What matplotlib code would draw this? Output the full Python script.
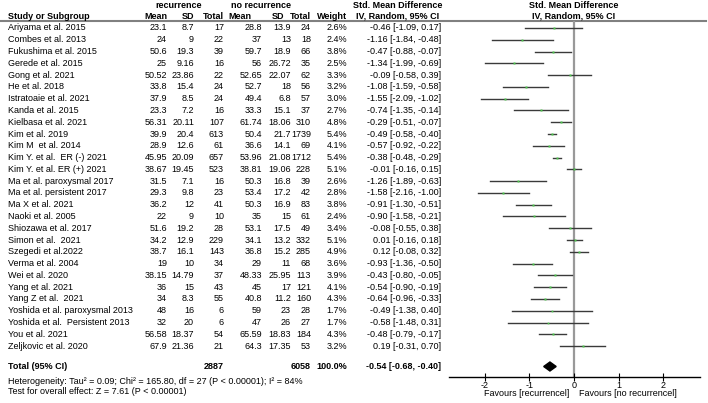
import matplotlib
matplotlib.use("Agg")
import matplotlib.pyplot as plt
from matplotlib.patches import Polygon

plt.rcParams['font.family'] = ['Liberation Sans', 'DejaVu Sans']

# ===== data =====
studies = [
    "Ariyama et al. 2015", "Combes et al. 2013", "Fukushima et al. 2015", "Gerede et al. 2015",
    "Gong et al. 2021", "He et al. 2018", "Istratoaie et al. 2021", "Kanda et al. 2015",
    "Kielbasa et al. 2021", "Kim et al. 2019", "Kim M  et al. 2014", "Kim Y. et al.  ER (-) 2021",
    "Kim Y. et al. ER (+) 2021", "Ma et al. paroxysmal 2017", "Ma et al. persistent 2017",
    "Ma X et al. 2021", "Naoki et al. 2005", "Shiozawa et al. 2017", "Simon et al.  2021",
    "Szegedi et al.2022", "Verma et al. 2004", "Wei et al. 2020", "Yang et al. 2021",
    "Yang Z et al.  2021", "Yoshida et al. paroxysmal 2013", "Yoshida et al.  Persistent 2013",
    "You et al. 2021", "Zeljkovic et al. 2020",
]
rec_mean = [23.1, 24, 50.6, 25, 50.52, 33.8, 37.9, 23.3, 56.31, 39.9, 28.9, 45.95, 38.67, 31.5,
            29.3, 36.2, 22, 51.6, 34.2, 38.7, 19, 38.15, 36, 34, 48, 32, 56.58, 67.9]
rec_sd = [8.7, 9, 19.3, 9.16, 23.86, 15.4, 8.5, 7.2, 20.11, 20.4, 12.6, 20.09, 19.45, 7.1,
          9.8, 12, 9, 19.2, 12.9, 16.1, 10, 14.79, 15, 8.3, 16, 20, 18.37, 21.36]
rec_n = [17, 22, 39, 16, 22, 24, 24, 16, 107, 613, 61, 657, 523, 16, 23, 41, 10, 28, 229, 143,
         34, 37, 43, 55, 6, 6, 54, 21]
non_mean = [28.8, 37, 59.7, 56, 52.65, 52.7, 49.4, 33.3, 61.74, 50.4, 36.6, 53.96, 38.81, 50.3,
            53.4, 50.3, 35, 53.1, 34.1, 36.8, 29, 48.33, 45, 40.8, 59, 47, 65.59, 64.3]
non_sd = [13.9, 13, 18.9, 26.72, 22.07, 18, 6.8, 15.1, 18.06, 21.7, 14.1, 21.08, 19.06, 16.8,
          17.2, 16.9, 15, 17.5, 13.2, 15.2, 11, 25.95, 17, 11.2, 23, 26, 18.83, 17.35]
non_n = [24, 18, 66, 35, 62, 56, 57, 37, 310, 1739, 69, 1712, 228, 39, 42, 83, 61, 49, 332, 285,
         68, 113, 121, 160, 28, 27, 184, 53]
weight = [2.6, 2.4, 3.8, 2.5, 3.3, 3.2, 3.0, 2.7, 4.8, 5.4, 4.1, 5.4, 5.1, 2.6, 2.8, 3.8, 2.4,
          3.4, 5.1, 4.9, 3.6, 3.9, 4.1, 4.3, 1.7, 1.7, 4.3, 3.2]
smd = [-0.46, -1.16, -0.47, -1.34, -0.09, -1.08, -1.55, -0.74, -0.29, -0.49, -0.57, -0.38, -0.01,
       -1.26, -1.58, -0.91, -0.90, -0.08, 0.01, 0.12, -0.93, -0.43, -0.54, -0.64, -0.49, -0.58,
       -0.48, 0.19]
ci_lo = [-1.09, -1.84, -0.88, -1.99, -0.58, -1.59, -2.09, -1.35, -0.51, -0.58, -0.92, -0.48, -0.16,
         -1.89, -2.16, -1.30, -1.58, -0.55, -0.16, -0.08, -1.36, -0.80, -0.90, -0.96, -1.38, -1.48,
         -0.79, -0.31]
ci_hi = [0.17, -0.48, -0.07, -0.69, 0.39, -0.58, -1.02, -0.14, -0.07, -0.40, -0.22, -0.29, 0.15,
         -0.63, -1.00, -0.51, -0.21, 0.38, 0.18, 0.32, -0.50, -0.05, -0.19, -0.33, 0.40, 0.31,
         -0.17, 0.70]

total_rec, total_non, total_weight = 2887, 6058, 100.0
total_smd, total_lo, total_hi = -0.54, -0.68, -0.40
het_text = "Heterogeneity: Tau² = 0.09; Chi² = 165.80, df = 27 (P < 0.00001); I² = 84%"
test_text = "Test for overall effect: Z = 7.61 (P < 0.00001)"
xticks = [-2, -1, 0, 1, 2]

# ===== layout (pixels) =====
W, H = 708, 403
row0, rowstep = 28.0, 11.78
total_y = 366.5
axis_y = 377
head_line_y = 21
fs = 6.5

def row_y(i):
    return row0 + rowstep * i

fig = plt.figure(figsize=(W / 100, H / 100), dpi=100)
ax = fig.add_axes([0, 0, 1, 1])
ax.set_xlim(0, W)
ax.set_ylim(H, 0)
ax.axis("off")

# headers
bold = dict(fontsize=fs, fontweight="bold", va="center")
ax.text(179, 5.5, "recurrence", ha="center", **bold)
ax.text(261, 5.5, "no recurrence", ha="center", **bold)
ax.text(398, 5.5, "Std. Mean Difference", ha="center", **bold)
ax.text(574, 5.5, "Std. Mean Difference", ha="center", **bold)
ax.text(8, 16.5, "Study or Subgroup", ha="left", **bold)
for x, s in [(167, "Mean"), (194, "SD"), (224, "Total"), (251, "Mean"), (284, "SD"),
             (311, "Total"), (347, "Weight")]:
    ax.text(x, 16.5, s, ha="right", **bold)
ax.text(398, 16.5, "IV, Random, 95% CI", ha="center", **bold)
ax.text(574, 16.5, "IV, Random, 95% CI", ha="center", **bold)
ax.plot([0, 706], [head_line_y, head_line_y], color="#808080", lw=1.5)

# rows of the table
for i, name in enumerate(studies):
    y = row_y(i)
    ax.text(8, y, name, ha="left", va="center", fontsize=fs)
    cols = [(167, f"{rec_mean[i]:g}"), (194, f"{rec_sd[i]:g}"), (224, f"{rec_n[i]}"),
            (262, f"{non_mean[i]:g}"), (291, f"{non_sd[i]:g}"), (311, f"{non_n[i]}"),
            (347, f"{weight[i]:.1f}%"),
            (441, f"{smd[i]:.2f} [{ci_lo[i]:.2f}, {ci_hi[i]:.2f}]")]
    for x, s in cols:
        ax.text(x, y, s, ha="right", va="center", fontsize=fs)

# total + footer
ax.text(8, total_y, "Total (95% CI)", ha="left", **bold)
ax.text(224, total_y, f"{total_rec}", ha="right", **bold)
ax.text(311, total_y, f"{total_non}", ha="right", **bold)
ax.text(347, total_y, f"{total_weight:.1f}%", ha="right", **bold)
ax.text(441, total_y, f"{total_smd:.2f} [{total_lo:.2f}, {total_hi:.2f}]", ha="right", **bold)
ax.text(8, 381, het_text, ha="left", va="center", fontsize=fs)
ax.text(8, 392, test_text, ha="left", va="center", fontsize=fs)
ax.text(569, 394, "Favours [recurrencel]", ha="right", va="center", fontsize=fs)
ax.text(579, 394, "Favours [no recurrencel]", ha="left", va="center", fontsize=fs)

# forest panel
x0, x1 = 449, 700
fx = fig.add_axes([x0 / W, (H - axis_y) / H, (x1 - x0) / W, (axis_y - head_line_y) / H])
fx.set_xlim(-2.8, 2.82)
fx.set_ylim(axis_y, head_line_y)
fx.patch.set_alpha(0)
for s in ["top", "left", "right"]:
    fx.spines[s].set_visible(False)
fx.spines["bottom"].set_linewidth(1)
fx.set_yticks([])
fx.set_xticks(xticks)
fx.set_xticklabels([f"{t}" for t in xticks], fontsize=fs)
fx.tick_params(axis="x", direction="inout", length=6, width=0.8, pad=0)

fx.axvline(0, color="#999999", lw=1.6, zorder=1)
for i in range(len(studies)):
    y = row_y(i)
    fx.plot([ci_lo[i], ci_hi[i]], [y, y], color="#3a3a3a", lw=1, zorder=2)
    fx.plot(smd[i], y, marker="s", ms=0.8 + 0.25 * weight[i], color="#4cc34c",
            mec="none", zorder=3)

fx.add_patch(Polygon([(total_lo, total_y), (total_smd, total_y - 4.5), (total_hi, total_y),
                      (total_smd, total_y + 4.5)], closed=True, color="black", zorder=3))

fig.savefig("out.png", dpi=100)
